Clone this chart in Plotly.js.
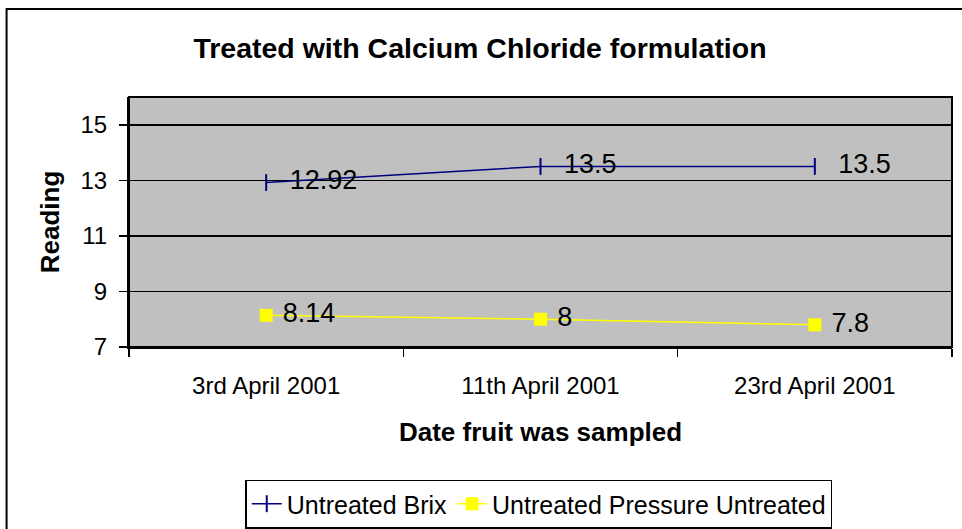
<!DOCTYPE html>
<html>
<head>
<meta charset="utf-8">
<script src="https://cdn.plot.ly/plotly-3.0.1.min.js"></script>
<style>html,body{margin:0;padding:0;background:#fff;}</style>
</head>
<body>
<div id="chart" style="width:962px;height:529px;"></div>
<script>
const categories = ["3rd April 2001", "11th April 2001", "23rd April 2001"];
const brixValues = [12.92, 13.5, 13.5];
const pressureValues = [8.14, 8, 7.8];
const yTicks = [7, 9, 11, 13, 15];
const seriesNames = ["Untreated Brix", "Untreated Pressure Untreated"];

const FONT = "Liberation Sans, Arial, sans-serif";
const PL = 128.5, PR = 952, PT = 97, PB = 347;
const PW = PR - PL, PH = PB - PT;
const px = v => (v - PL) / PW;
const py = v => (PB - v) / PH;

const traces = [
  {
    x: categories, y: brixValues, name: seriesNames[0],
    type: "scatter", mode: "lines+markers+text",
    line: {color: "#000080", width: 1.5},
    marker: {symbol: "line-ns", size: 12, line: {color: "#000080", width: 2}},
    texttemplate: "  %{y}", textposition: "middle right",
    textfont: {family: FONT, size: 27, color: "#000"},
    cliponaxis: false
  },
  {
    x: categories, y: pressureValues, name: seriesNames[1],
    type: "scatter", mode: "lines+markers+text",
    line: {color: "#FFFF00", width: 1.5},
    marker: {symbol: "square", size: 13, color: "#FFFF00"},
    texttemplate: " %{y}", textposition: "middle right",
    textfont: {family: FONT, size: 27, color: "#000"},
    cliponaxis: false
  }
];

const layout = {
  width: 962, height: 529,
  margin: {l: PL, r: 962 - PR, t: PT, b: 529 - PB, autoexpand: false},
  paper_bgcolor: "#fff",
  plot_bgcolor: "#C0C0C0",
  font: {family: FONT, color: "#000"},
  showlegend: true,
  title: {
    text: "<b>Treated with Calcium Chloride formulation</b>",
    font: {family: FONT, size: 28.5, color: "#000"},
    x: 480 / 962, xanchor: "center", y: 1 - 48 / 529, yanchor: "middle"
  },
  xaxis: {
    type: "category", range: [-0.5, 2.5], automargin: false,
    tickson: "boundaries", ticks: "outside", ticklen: 8, tickcolor: "#000", tickwidth: 1.5,
    showline: true, linecolor: "#000", linewidth: 2,
    showgrid: false, zeroline: false,
    tickfont: {family: FONT, size: 24, color: "#000"},
    ticklabelstandoff: 16,
    title: {text: "<b>Date fruit was sampled</b>", font: {family: FONT, size: 26, color: "#000"}, standoff: 25}
  },
  yaxis: {
    range: [7, 16], tickvals: yTicks, ticktext: yTicks.map(String), automargin: false,
    ticks: "outside", ticklen: 8, tickcolor: "#000", tickwidth: 1.5,
    showline: true, linecolor: "#000", linewidth: 2,
    showgrid: true, gridcolor: "#000", gridwidth: 1.5,
    zeroline: false,
    tickfont: {family: FONT, size: 24, color: "#000"},
    ticklabelstandoff: 7,
    title: {text: "<b>Reading</b>", font: {family: FONT, size: 26, color: "#000"}, standoff: 13}
  },
  legend: {
    orientation: "h", x: px(538.5), xanchor: "center", y: py(504), yanchor: "middle",
    bordercolor: "#000", borderwidth: 1.5, bgcolor: "#fff",
    font: {family: FONT, size: 25, color: "#000"},
    itemwidth: 30
  },
  shapes: [
    {type: "rect", xref: "paper", yref: "paper", x0: 0, x1: 1, y0: 0, y1: 1,
     line: {color: "#000", width: 2}, layer: "above"},
    {type: "rect", xref: "paper", yref: "paper",
     x0: px(6), x1: px(975), y0: py(545), y1: py(9),
     line: {color: "#000", width: 2}, fillcolor: "rgba(0,0,0,0)"}
  ]
};

Plotly.newPlot("chart", traces, layout, {displayModeBar: false, staticPlot: true});
</script>
</body>
</html>
